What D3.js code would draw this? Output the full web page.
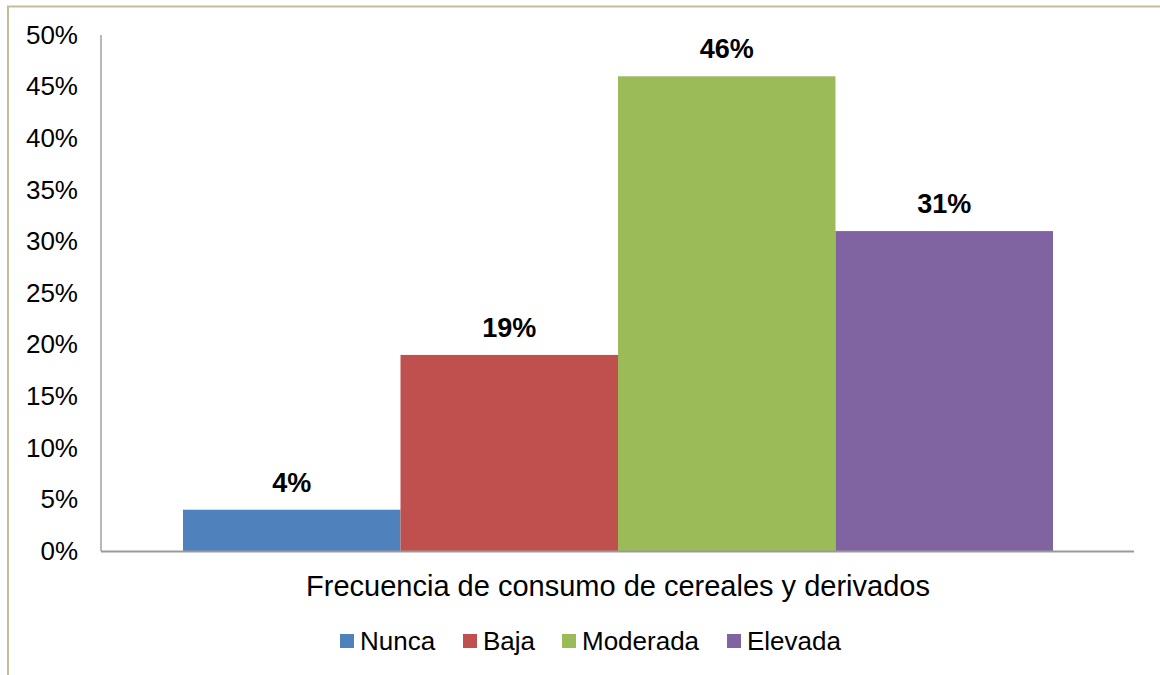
<!DOCTYPE html>
<html>
<head>
<meta charset="utf-8">
<script src="https://cdn.jsdelivr.net/npm/d3@7/dist/d3.min.js"></script>
<style>
  html, body { margin: 0; padding: 0; background: #fff; }
  svg { display: block; font-family: "Liberation Sans", Arial, sans-serif; }
</style>
</head>
<body>
<svg id="chart" width="1160" height="675"></svg>
<script>
// Frequency of consumption of cereals and derivatives (share of respondents)
const categories = ["Nunca", "Baja", "Moderada", "Elevada"];
const values = [0.04, 0.19, 0.46, 0.31];
const colors = ["#4f81bd", "#c0504d", "#9bbb59", "#8064a2"];
const yTicks = [0, 0.05, 0.10, 0.15, 0.20, 0.25, 0.30, 0.35, 0.40, 0.45, 0.50];
const axisTitle = "Frecuencia de consumo de cereales y derivados";

const svg = d3.select("#chart");
const W = 1160, H = 675;

// outer frame (runs past the right and bottom edges)
svg.append("rect")
  .attr("x", 8).attr("y", 6.5)
  .attr("width", W + 20).attr("height", H + 20)
  .attr("fill", "#fff")
  .attr("stroke", "#c4bd97").attr("stroke-width", 2);

const plot = { left: 101, right: 1134, top: 35, bottom: 551 };

const y = d3.scaleLinear().domain([0, 0.5]).range([plot.bottom, plot.top]);
const x = d3.scaleBand().domain(categories)
  .range([183, 1053]).paddingInner(0).paddingOuter(0);

// y tick labels
const yAxis = d3.axisLeft(y).tickValues(yTicks)
  .tickFormat(d3.format(".0%")).tickSize(0).tickPadding(23);
const gy = svg.append("g").attr("transform", `translate(${plot.left},0)`).call(yAxis);
gy.select(".domain").remove();
gy.selectAll("text")
  .attr("font-size", 26).attr("fill", "#000")
  .attr("font-family", "Liberation Sans, Arial, sans-serif");

// bars
svg.append("g").selectAll("rect")
  .data(values)
  .join("rect")
  .attr("x", (d, i) => x(categories[i]))
  .attr("y", d => y(d))
  .attr("width", x.bandwidth())
  .attr("height", d => y(0) - y(d))
  .attr("fill", (d, i) => colors[i]);

// value labels
svg.append("g").selectAll("text")
  .data(values)
  .join("text")
  .attr("x", (d, i) => x(categories[i]) + x.bandwidth() / 2)
  .attr("y", d => y(d) - 18)
  .attr("text-anchor", "middle")
  .attr("font-size", 27).attr("font-weight", "bold").attr("fill", "#000")
  .text(d => d3.format(".0%")(d));

// axis lines
svg.append("line")
  .attr("x1", plot.left).attr("x2", plot.left)
  .attr("y1", plot.top).attr("y2", plot.bottom)
  .attr("stroke", "#a0a0a0").attr("stroke-width", 1.5);
svg.append("line")
  .attr("x1", plot.left).attr("x2", plot.right)
  .attr("y1", plot.bottom + 0.5).attr("y2", plot.bottom + 0.5)
  .attr("stroke", "#9a9a9a").attr("stroke-width", 2);

// x axis title
svg.append("text")
  .attr("x", 618).attr("y", 596)
  .attr("text-anchor", "middle")
  .attr("font-size", 29).attr("fill", "#000")
  .text(axisTitle);

// legend
const legendX = [340, 463, 562, 727];
const lg = svg.append("g").selectAll("g")
  .data(categories)
  .join("g")
  .attr("transform", (d, i) => `translate(${legendX[i]},0)`);
lg.append("rect")
  .attr("x", 0).attr("y", 634)
  .attr("width", 14).attr("height", 14)
  .attr("fill", (d, i) => colors[i]);
lg.append("text")
  .attr("x", 20).attr("y", 650)
  .attr("font-size", 26).attr("fill", "#000")
  .text(d => d);
</script>
</body>
</html>
